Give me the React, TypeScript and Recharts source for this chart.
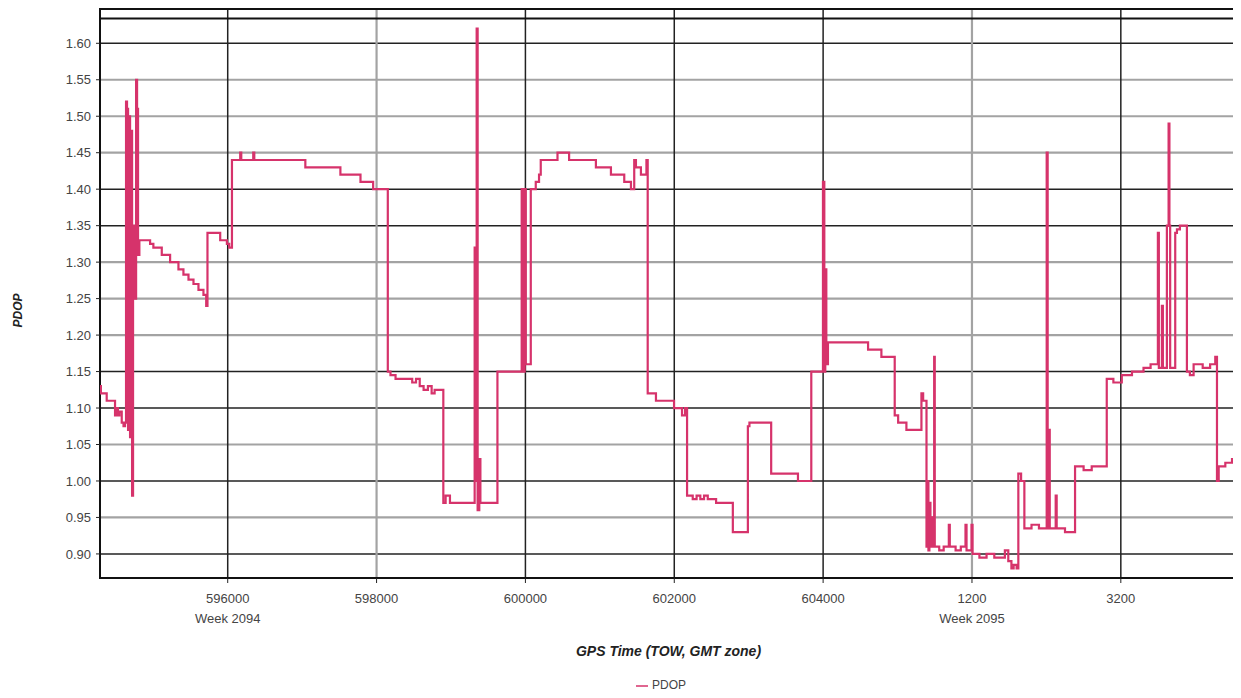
import { LineChart, Line, XAxis, YAxis, CartesianGrid, Legend, ReferenceLine, ReferenceArea } from 'recharts';

const WEEK_SECONDS = 604800;

// x values: seconds since the start of GPS week 2094 (past 604800 = week 2095)
const towTicks = [596000, 598000, 600000, 602000, 604000, 606000, 608000];
const weekLabels: Record<number, string> = { 596000: 'Week 2094', 606000: 'Week 2095' };
const pdopTicks = [0.9, 0.95, 1.0, 1.05, 1.1, 1.15, 1.2, 1.25, 1.3, 1.35, 1.4, 1.45, 1.5, 1.55, 1.6];

const opening: [number, number][] = [
  [594284, 1.13], [594296, 1.12], [594374, 1.11], [594486, 1.09], [594505, 1.1], [594525, 1.09],
  [594545, 1.095], [594576, 1.08], [594600, 1.075], [594620, 1.08], [594634, 1.52], [594647, 1.51],
  [594661, 1.07], [594674, 1.5], [594688, 1.06], [594701, 1.48], [594715, 0.98], [594728, 1.25],
  [594742, 1.35], [594755, 1.25], [594769, 1.55], [594782, 1.51], [594795, 1.31], [594813, 1.33],
];

const stairs: [number, number][] = [
  [594957, 1.325], [595001, 1.32], [595114, 1.31], [595226, 1.3], [595338, 1.29], [595405, 1.283],
  [595473, 1.276], [595540, 1.27], [595607, 1.262], [595674, 1.255], [595711, 1.24], [595728, 1.34],
  [595899, 1.33], [595989, 1.325], [596020, 1.32], [596057, 1.44], [596168, 1.45], [596182, 1.44],
  [596343, 1.45], [596357, 1.44],
];

const firstPlateau: [number, number][] = [
  [597043, 1.43], [597514, 1.42], [597784, 1.41], [597954, 1.4], [598151, 1.15], [598187, 1.145],
  [598255, 1.14], [598479, 1.135], [598530, 1.14], [598580, 1.13], [598632, 1.125], [598690, 1.13],
  [598740, 1.12], [598780, 1.125], [598897, 0.97], [598928, 0.98], [598986, 0.97], [599318, 1.32],
  [599332, 1.0], [599345, 1.62], [599358, 0.96], [599380, 1.03], [599395, 0.97],
];

const secondPlateau: [number, number][] = [
  [599624, 1.15], [599950, 1.4], [599975, 1.15], [599990, 1.4], [600005, 1.16], [600072, 1.4],
  [600139, 1.41], [600183, 1.42], [600206, 1.44], [600431, 1.45], [600587, 1.44], [600947, 1.43],
  [601149, 1.42], [601328, 1.41], [601418, 1.4], [601462, 1.44], [601485, 1.43], [601552, 1.42],
  [601626, 1.44], [601643, 1.12],
];

const middle: [number, number][] = [
  [601754, 1.11], [601997, 1.1], [602104, 1.09], [602145, 1.1], [602172, 0.98], [602248, 0.975],
  [602300, 0.98], [602350, 0.975], [602400, 0.98], [602450, 0.975], [602562, 0.97], [602787, 0.93],
  [602989, 1.075], [603010, 1.08], [603302, 1.01], [603662, 1.0], [603841, 1.15], [603998, 1.41],
  [604016, 1.15], [604029, 1.29], [604043, 1.16], [604065, 1.19],
];

const weekTurn: [number, number][] = [
  [604604, 1.18], [604783, 1.17], [604962, 1.09], [605008, 1.08], [605119, 1.07], [605321, 1.12],
  [605344, 1.11], [605389, 0.91], [605402, 1.0], [605415, 0.905], [605428, 0.97], [605442, 0.91],
  [605456, 0.95], [605469, 0.91], [605492, 1.17], [605500, 0.91], [605560, 0.905], [605620, 0.91],
  [605689, 0.94], [605702, 0.91], [605780, 0.905], [605850, 0.91], [605913, 0.94], [605927, 0.905],
  [605994, 0.94], [606008, 0.9], [606100, 0.895], [606196, 0.9], [606300, 0.895], [606442, 0.905],
  [606488, 0.89], [606530, 0.88], [606560, 0.885], [606600, 0.88], [606623, 1.01], [606660, 1.0],
  [606704, 0.935], [606800, 0.94], [606900, 0.935], [607004, 1.45], [607017, 0.935], [607031, 1.07],
  [607045, 0.935],
];

const closing: [number, number][] = [
  [607125, 0.98], [607138, 0.935], [607250, 0.93], [607385, 1.02], [607500, 1.015], [607609, 1.02],
  [607811, 1.14], [607900, 1.135], [608013, 1.145], [608150, 1.15], [608305, 1.155], [608400, 1.16],
  [608498, 1.34], [608511, 1.155], [608552, 1.24], [608565, 1.155], [608619, 1.35], [608642, 1.49],
  [608653, 1.35], [608663, 1.155], [608731, 1.34], [608754, 1.345], [608794, 1.35], [608888, 1.15],
  [608928, 1.145], [608978, 1.16], [609100, 1.155], [609200, 1.16], [609269, 1.17], [609292, 1.0],
  [609315, 1.02], [609404, 1.025], [609494, 1.03], [609561, 1.03],
];

const data = [opening, stairs, firstPlateau, secondPlateau, middle, weekTurn, closing]
  .flat()
  .map(([t, pdop]) => ({ t, pdop }));

const X_DOMAIN: [number, number] = [594284, 609561];
const Y_DOMAIN: [number, number] = [0.867, 1.647];

// grid lines that come out lighter in the original
const softY = [1, 3, 6, 7, 8, 11, 12, 13];
const softX = [1, 5];

const FONT = '"Liberation Sans", Arial, sans-serif';

const TimeTick = (props: any) => {
  const { x, y, payload } = props;
  const v = payload.value;
  const tow = v >= WEEK_SECONDS ? v - WEEK_SECONDS : v;
  return (
    <g>
      <text x={x} y={y + 18} textAnchor="middle" fill="#444" fontSize={13}>{tow}</text>
      {weekLabels[v] && (
        <text x={x} y={y + 38} textAnchor="middle" fill="#444" fontSize={13}>{weekLabels[v]}</text>
      )}
    </g>
  );
};

const PdopLabel = (props: any) => {
  const vb = props.viewBox;
  const cx = vb.x + 10;
  const cy = vb.y + vb.height / 2 + 17;
  return (
    <text x={cx} y={cy} transform={`rotate(-90 ${cx} ${cy})`} textAnchor="middle" dominantBaseline="central"
      fontSize={12} fontWeight="bold" fontStyle="italic" fill="#222">PDOP</text>
  );
};

const hLine = (p: any) => (
  <line key={`h-${p.index}`} x1={p.x1} y1={p.y1} x2={p.x2} y2={p.y2}
    stroke={softY.includes(p.index) ? '#a3a3a3' : '#222'} strokeWidth={softY.includes(p.index) ? 2.2 : 1.5} />
);

const vLine = (p: any) => (
  <line key={`v-${p.index}`} x1={p.x1} y1={p.y1} x2={p.x2} y2={p.y2}
    stroke={softX.includes(p.index) ? '#a3a3a3' : '#222'} strokeWidth={softX.includes(p.index) ? 2.2 : 1.5} />
);

export default function App() {
  return (
    <div style={{ width: 1233, height: 690 }}>
      <LineChart width={1233} height={690} data={data}
        margin={{ top: 1, right: 4, bottom: 20, left: 0 }}
        style={{ fontFamily: FONT }}>
        <CartesianGrid horizontal={hLine} vertical={vLine} />
        <XAxis type="number" dataKey="t" domain={X_DOMAIN} ticks={towTicks} allowDataOverflow
          height={80} tickSize={5} tick={<TimeTick />} axisLine={false}
          tickLine={{ stroke: '#222' }}
          label={{ value: 'GPS Time (TOW, GMT zone)', position: 'insideBottom', offset: 2,
            style: { fontSize: 14, fontWeight: 'bold', fontStyle: 'italic', fill: '#222' } }} />
        <YAxis type="number" domain={Y_DOMAIN} ticks={pdopTicks} allowDataOverflow width={92}
          tickSize={4} tickMargin={5} axisLine={false} tickLine={{ stroke: '#222' }}
          tick={{ fill: '#444', fontSize: 13 }} tickFormatter={(v: number) => v.toFixed(2)}
          label={PdopLabel} />
        <ReferenceLine y={1.634} stroke="#111" strokeWidth={2} />
        <ReferenceArea x1={X_DOMAIN[0]} x2={X_DOMAIN[1]} y1={Y_DOMAIN[0]} y2={Y_DOMAIN[1]}
          fill="none" fillOpacity={0} stroke="#111" strokeWidth={2} />
        <Line type="stepAfter" dataKey="pdop" name="PDOP" stroke="#d6336b" strokeWidth={2.2}
          dot={false} isAnimationActive={false} />
        <Legend verticalAlign="bottom" height={20} iconType="plainline" iconSize={12}
          wrapperStyle={{ bottom: 0, left: 598, width: 120, fontSize: 12 }}
          formatter={(value: string) => <span style={{ color: '#444' }}>{value}</span>} />
      </LineChart>
    </div>
  );
}
